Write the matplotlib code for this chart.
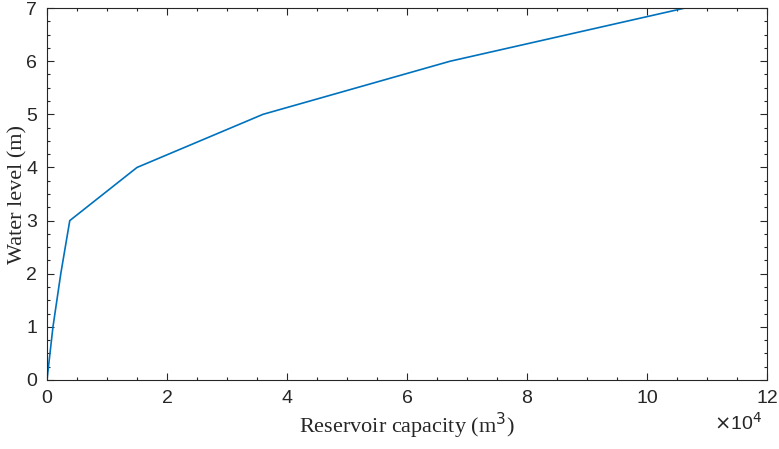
import matplotlib
matplotlib.use('Agg')
import matplotlib.pyplot as plt
from matplotlib.ticker import MultipleLocator, FuncFormatter

# water level (m) vs. reservoir capacity (m3)
level = [0, 1, 2, 3, 4, 5, 6, 7]
capacity = [0, 1000, 2300, 3800, 15000, 36000, 67200, 106300]

fig = plt.figure(figsize=(7.79, 4.49), dpi=100)
ax = fig.add_axes([0.0603, 0.1537, 0.9243, 0.8283])

ax.plot(capacity, level, color='#0072BD', linewidth=1.2)

ax.set_xlim(0, 120000)
ax.set_ylim(0, 7)
ax.xaxis.set_major_locator(MultipleLocator(20000))
ax.xaxis.set_minor_locator(MultipleLocator(5000))
ax.yaxis.set_major_locator(MultipleLocator(1))
ax.yaxis.set_minor_locator(MultipleLocator(0.25))
ax.xaxis.set_major_formatter(FuncFormatter(lambda v, p: '%g' % (v / 1e4)))

tick_col = '#262626'
ax.tick_params(which='both', direction='in', top=True, right=True,
               colors=tick_col, labelsize=14, width=0.8)
ax.tick_params(which='major', length=5)
ax.tick_params(which='minor', length=2.5)
ax.tick_params(axis='x', pad=7)
ax.tick_params(axis='y', pad=7)
for lab in ax.get_xticklabels() + ax.get_yticklabels():
    lab.set_family('Liberation Sans')
for s in ax.spines.values():
    s.set_color(tick_col)
    s.set_linewidth(0.8)

ax.set_xlabel('Reservoir capacity (m$^3$)', family='Liberation Serif',
              fontsize=16, color=tick_col)
ax.set_ylabel('Water level (m)', family='Liberation Serif',
              fontsize=16, color=tick_col)
ax.xaxis.set_label_coords(0.5, -0.082)
ax.yaxis.set_label_coords(-0.027, 0.5)

fig.text(0.978, 0.042, r'$\times$10$^4$', ha='right', va='baseline',
         fontsize=14, family='Liberation Sans', color=tick_col)

fig.savefig('out.png', dpi=100)
